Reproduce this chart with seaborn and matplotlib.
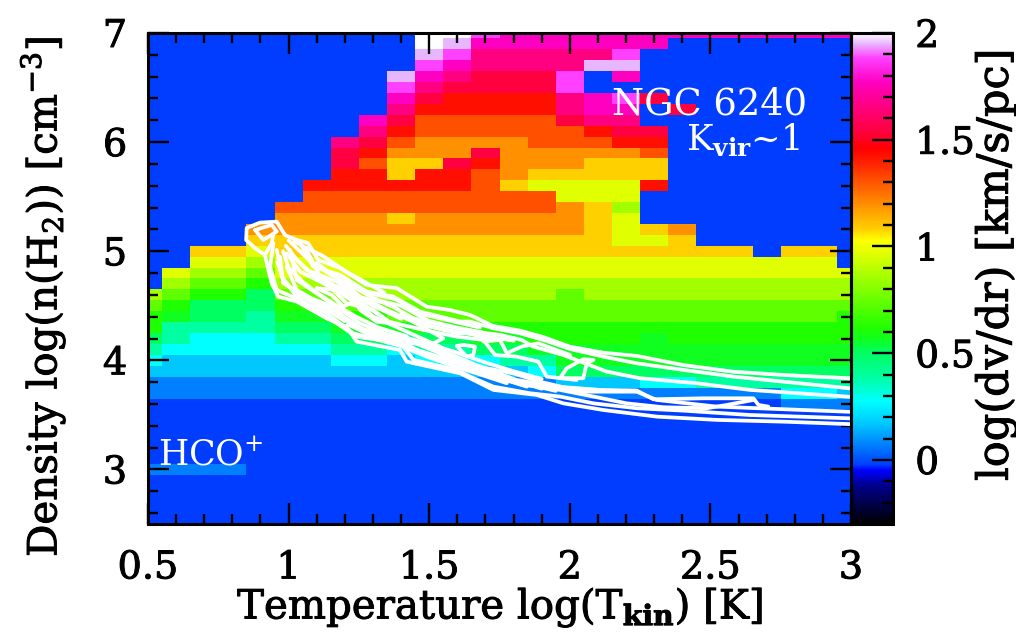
import numpy as np
import seaborn as sns
import matplotlib.pyplot as plt
import matplotlib.patheffects as pe
from matplotlib.colors import LinearSegmentedColormap
from matplotlib.ticker import MultipleLocator

plt.rcParams['font.family'] = ['DejaVu Serif']
plt.rcParams['mathtext.fontset'] = 'custom'
plt.rcParams['mathtext.rm'] = 'DejaVu Serif'
plt.rcParams['mathtext.bf'] = 'DejaVu Serif:bold'

# grid of the model: log T = 0.5..3.0, log n = 7.0..2.5 (top row first)
logT_start, logT_step = 0.5, 0.1
logn_start, logn_step = 2.5, 0.1

# one letter per colour level of log(dv/dr)
level_codes = list("abcdefGghijklmnopqrst")
level_values = [-0.02, 0.07, 0.17, 0.275, 0.39, 0.505, 0.565, 0.62, 0.735, 0.85, 0.965,
                1.08, 1.195, 1.31, 1.425, 1.54, 1.655, 1.77, 1.885, 1.95, 2.0]
level_colors = ["#0040ff", "#0080ff", "#00c8ff", "#00ffff", "#00ffa0", "#00ff60", "#10ff20",
                "#20ff00", "#60ff00", "#a0ff00", "#e0ff00", "#ffd000", "#ff9000", "#ff5000",
                "#ff1000", "#ff0040", "#ff0080", "#ff00c0", "#ff40ff", "#e8b4ff", "#ffffff"]

dvdr_rows = [
    "a"*10 + "tt" + "r" + "q"*13,                                   # 7.0
    "a"*10 + "ts" + "q"*7 + "a"*7,
    "a"*10 + "sr" + "p"*5 + "r" + "a"*8,
    "a"*10 + "rq" + "p"*4 + "ss" + "a"*8,
    "a"*9 + "sqp" + "ooo" + "r" + "a" + "q" + "a"*8,
    "a"*9 + "rp" + "oooo" + "r" + "a"*10,
    "a"*9 + "qo" + "nnnn" + "pqro" + "a"*7,
    "a"*9 + "p" + "n"*5 + "pqq" + "ao" + "a"*6,
    "a"*8 + "qo" + "m"*5 + "opp" + "a"*8,
    "a"*8 + "pn" + "m"*6 + "noo" + "a"*7,
    "a"*7 + "pom" + "llll" + "mmm" + "nn" + "a"*7,                  # 6.0
    "a"*7 + "on" + "lll" + "o" + "l"*5 + "m" + "a"*7,
    "a"*7 + "om" + "kk" + "on" + "lll" + "kkk" + "a"*7,
    "a"*7 + "nn" + "k" + "nn" + "ml" + "k"*5 + "a"*7,
    "a"*6 + "n"*6 + "mk" + "jjjj" + "n" + "a"*7,
    "a"*6 + "m"*9 + "jjj" + "a"*8,
    "a"*5 + "m"*10 + "lki" + "a"*8,
    "a"*5 + "llll" + "k" + "l"*6 + "kj" + "a"*8,
    "a"*4 + "l"*12 + "kjkl" + "a"*6,
    "a"*4 + "k"*13 + "jjk" + "a"*6,
    "aa" + "kk" + "j" + "k"*17 + "a" + "kk" + "a",                  # 5.0
    "aa" + "jj" + "i" + "j"*20 + "a",
    "ajiih" + "j"*21,
    "aihhg" + "i"*21,
    "ihggf" + "hh" + "i"*8 + "h" + "i"*10,
    "hgfff" + "gg" + "h"*19,
    "gGffe" + "GG" + "gg" + "h"*16 + "g",
    "geeee" + "ff" + "GG" + "G" + "g"*16,
    "feddd" + "ee" + "ff" + "e" + "ff" + "GG" + "gggg" + "G" + "g"*7,
    "edddd" + "dd" + "ee" + "d" + "ee" + "ff" + "G"*12,
    "dcccc" + "cc" + "dd" + "c" + "dd" + "d" + "ee" + "G"*11,       # 4.0
    "c"*14 + "d" + "f"*11,
    "b"*15 + "ccc" + "dd" + "e"*6,
    "b"*23 + "ddc",
    "a"*23 + "bbb",
    "a"*26,
    "a"*26,
    "a"*26,
    "a"*26,
    "a"*26,
    "bbbb" + "a"*22,                                                # 3.0
    "a"*26,
    "a"*26,
    "a"*26,
    "a"*26,
    "a"*26,
]

# hand read contours of the line emission: (log T, log n)
cont_top_T = [0.851, 0.898, 0.958, 0.987, 1.029, 1.069, 1.105, 1.183, 1.278, 1.384, 1.491, 1.574, 1.645, 1.727, 1.823, 1.905, 2.0, 2.118, 2.239, 2.403, 2.58, 2.758, 3.0]
cont_top_n = [5.213, 5.262, 5.271, 5.149, 5.103, 5.076, 4.92, 4.846, 4.69, 4.663, 4.492, 4.461, 4.416, 4.315, 4.272, 4.214, 4.125, 4.07, 4.04, 3.957, 3.896, 3.866, 3.835]
cont_low_T = [0.851, 0.849, 0.881, 0.916, 0.928, 0.94, 0.963, 1.029, 1.135, 1.206, 1.242, 1.396, 1.42, 1.61, 1.728, 1.882, 1.977, 2.119, 2.31, 2.523, 2.76, 3.0]
cont_low_n = [5.21, 5.103, 5.027, 4.966, 4.828, 4.706, 4.584, 4.538, 4.385, 4.309, 4.172, 4.095, 3.988, 3.881, 3.729, 3.683, 3.606, 3.545, 3.484, 3.454, 3.438, 3.415]
cont_u2_T = [1.041, 1.088, 1.183, 1.278, 1.372, 1.467, 1.61, 1.645, 1.728, 1.823, 1.906, 2.001, 2.119, 2.238, 2.404, 2.582, 2.759, 3.0]
cont_u2_n = [5.073, 4.859, 4.783, 4.63, 4.584, 4.447, 4.355, 4.355, 4.294, 4.248, 4.187, 4.104, 4.034, 3.973, 3.912, 3.851, 3.805, 3.742]
cont_u3_T = [1.017, 1.064, 1.171, 1.242, 1.349, 1.444, 1.598, 1.657, 1.752, 1.829, 1.87, 1.977, 2.131, 2.25, 2.451, 2.641, 3.0]
cont_u3_n = [4.951, 4.828, 4.722, 4.584, 4.523, 4.385, 4.294, 4.263, 4.233, 4.187, 4.126, 4.049, 3.897, 3.836, 3.79, 3.729, 3.665]
cont_u4_T = [0.993, 1.041, 1.147, 1.206, 1.301, 1.355, 1.479, 1.598, 1.693, 1.734, 1.811, 1.888, 1.918, 2.024]
cont_u4_n = [4.981, 4.813, 4.676, 4.523, 4.462, 4.355, 4.279, 4.217, 4.187, 4.049, 4.034, 3.988, 3.851, 3.82]
cont_m1_T = [0.946, 0.934, 0.958, 1.041, 1.135, 1.23, 1.408, 1.444, 1.598, 1.645, 1.728, 1.859, 1.965, 2.084, 2.238, 2.404, 2.641, 3.0]
cont_m1_n = [5.073, 4.859, 4.645, 4.553, 4.431, 4.248, 4.126, 4.004, 3.912, 3.851, 3.759, 3.698, 3.668, 3.606, 3.561, 3.539, 3.499, 3.468]
cont_m2_T = [0.969, 0.981, 1.064, 1.159, 1.23, 1.372, 1.455, 1.598, 1.693, 1.835, 2.048, 2.238, 2.309, 2.522, 2.759, 3.0]
cont_m2_n = [4.951, 4.706, 4.584, 4.492, 4.309, 4.217, 4.095, 3.973, 3.881, 3.774, 3.713, 3.713, 3.637, 3.576, 3.552, 3.528]
cont_m3_T = [1.005, 1.029, 1.135, 1.254, 1.396, 1.503, 1.598, 1.693, 1.811, 1.953, 2.108, 2.238, 2.297, 2.475, 2.653, 2.671, 2.706]
cont_m3_n = [5.012, 4.737, 4.553, 4.34, 4.187, 4.126, 4.034, 3.927, 3.82, 3.759, 3.729, 3.723, 3.643, 3.652, 3.652, 3.591, 3.576]
cont_m4_T = [1.064, 1.112, 1.206, 1.301, 1.42, 1.538, 1.574, 1.681, 1.835, 1.965, 2.084, 2.202, 2.333, 2.487, 2.558, 2.653]
cont_m4_n = [5.012, 4.767, 4.615, 4.401, 4.263, 4.126, 4.019, 3.942, 3.79, 3.729, 3.668, 3.606, 3.57, 3.561, 3.591, 3.637]
cont_b1_T = [1.1, 1.183, 1.254, 1.349, 1.455, 1.598, 1.645, 1.716]
cont_b1_n = [4.89, 4.737, 4.584, 4.462, 4.34, 4.248, 4.248, 4.187]
cont_b2_T = [0.993, 1.029, 1.112, 1.195, 1.278, 1.396, 1.538, 1.61, 1.645, 1.752, 1.847]
cont_b2_n = [4.859, 4.645, 4.523, 4.401, 4.263, 4.217, 4.065, 3.973, 3.927, 3.836, 3.759]
cont_b3_T = [0.958, 0.976, 1.029, 1.088, 1.171, 1.242, 1.361, 1.491, 1.61, 1.669, 1.776]
cont_b3_n = [5.012, 4.767, 4.584, 4.462, 4.34, 4.217, 4.172, 4.034, 3.927, 3.881, 3.79]
cont_ring_T = [0.881, 0.91, 0.958, 0.94, 0.881]
cont_ring_n = [5.195, 5.103, 5.18, 5.241, 5.195]
cont_stem_T = [0.946, 0.94, 0.916]
cont_stem_n = [5.164, 5.073, 4.966]
cont_loop1_T = [1.1, 1.153, 1.195, 1.23, 1.171, 1.1]
cont_loop1_n = [4.66, 4.599, 4.492, 4.538, 4.645, 4.66]
cont_loop2_T = [1.23, 1.278, 1.349, 1.361, 1.313, 1.254, 1.23]
cont_loop2_n = [4.584, 4.492, 4.37, 4.34, 4.355, 4.462, 4.584]
cont_loop3_T = [1.42, 1.55, 1.515, 1.42]
cont_loop3_n = [4.385, 4.202, 4.156, 4.156]
cont_loop4_T = [1.621, 1.598, 1.633, 1.657, 1.663, 1.621]
cont_loop4_n = [4.141, 4.132, 4.034, 4.049, 4.126, 4.141]
cont_w1_T = [1.693, 1.752, 1.776, 1.829, 1.888, 2.001]
cont_w1_n = [4.172, 4.187, 4.065, 4.126, 4.156, 4.049]
cont_w2_T = [1.965, 1.989, 2.048, 2.084, 2.06, 2.048, 1.965]
cont_w2_n = [3.836, 3.927, 4.01, 4.004, 3.973, 3.836, 3.836]
# the dense part of the bundle
cont_e1_T = [1.0, 1.04, 1.08, 1.14, 1.2, 1.28, 1.36]
cont_e1_n = [5.1, 5.0, 4.9, 4.8, 4.72, 4.6, 4.5]
cont_e2_T = [0.99, 1.03, 1.08, 1.15, 1.22, 1.3, 1.4]
cont_e2_n = [5.05, 4.92, 4.8, 4.7, 4.62, 4.5, 4.38]
cont_e3_T = [0.98, 1.0, 1.05, 1.1, 1.16, 1.24, 1.32, 1.42]
cont_e3_n = [5.0, 4.85, 4.72, 4.62, 4.52, 4.4, 4.3, 4.22]
cont_e4_T = [0.96, 0.98, 1.02, 1.08, 1.15, 1.2]
cont_e4_n = [4.9, 4.75, 4.62, 4.54, 4.44, 4.36]
cont_e5_T = [1.02, 1.07, 1.12, 1.2, 1.27, 1.34]
cont_e5_n = [5.09, 5.02, 4.96, 4.82, 4.72, 4.62]
cont_f1_T = [1.21, 1.3, 1.4, 1.5, 1.6, 1.7, 1.8, 1.9]
cont_f1_n = [4.33, 4.22, 4.15, 4.05, 3.97, 3.9, 3.82, 3.74]
cont_f2_T = [1.25, 1.35, 1.45, 1.55, 1.65, 1.75, 1.85, 1.95]
cont_f2_n = [4.3, 4.2, 4.1, 4.02, 3.95, 3.85, 3.78, 3.72]
cont_f3_T = [1.3, 1.4, 1.5, 1.6, 1.7, 1.8, 1.9, 2.0]
cont_f3_n = [4.28, 4.2, 4.12, 4.0, 3.93, 3.88, 3.8, 3.74]
cont_f4_T = [1.4, 1.5, 1.6, 1.7, 1.8, 1.9]
cont_f4_n = [4.22, 4.15, 4.07, 3.98, 3.9, 3.83]
cont_g1_T = [1.28, 1.38, 1.48, 1.58, 1.68]
cont_g1_n = [4.62, 4.56, 4.42, 4.36, 4.3]
cont_g2_T = [1.3, 1.4, 1.5, 1.6, 1.7]
cont_g2_n = [4.56, 4.5, 4.36, 4.3, 4.25]
cont_g3_T = [1.4, 1.5, 1.6, 1.7, 1.8]
cont_g3_n = [4.42, 4.32, 4.26, 4.22, 4.18]

contours = [
    (cont_top_T, cont_top_n), (cont_low_T, cont_low_n), (cont_u2_T, cont_u2_n), (cont_u3_T, cont_u3_n),
    (cont_u4_T, cont_u4_n), (cont_m1_T, cont_m1_n), (cont_m2_T, cont_m2_n), (cont_m3_T, cont_m3_n),
    (cont_m4_T, cont_m4_n), (cont_b1_T, cont_b1_n), (cont_b2_T, cont_b2_n), (cont_b3_T, cont_b3_n),
    (cont_ring_T, cont_ring_n), (cont_stem_T, cont_stem_n), (cont_loop1_T, cont_loop1_n),
    (cont_loop2_T, cont_loop2_n), (cont_loop3_T, cont_loop3_n), (cont_loop4_T, cont_loop4_n),
    (cont_w1_T, cont_w1_n), (cont_w2_T, cont_w2_n),
    (cont_e1_T, cont_e1_n), (cont_e2_T, cont_e2_n), (cont_e3_T, cont_e3_n), (cont_e4_T, cont_e4_n),
    (cont_e5_T, cont_e5_n), (cont_f1_T, cont_f1_n), (cont_f2_T, cont_f2_n), (cont_f3_T, cont_f3_n),
    (cont_f4_T, cont_f4_n), (cont_g1_T, cont_g1_n), (cont_g2_T, cont_g2_n), (cont_g3_T, cont_g3_n),
]

# colour table: black at the bottom, then the level colours
vmin, vmax = -0.3, 2.0
stops = [(-0.3, "#000000"), (-0.12, "#00008c"), (-0.05, "#0000ff")] + list(zip(level_values, level_colors))
stops += [(1.03, "#ffff00"), (1.46, "#ff0000")]
stops = sorted(stops)
cmap = LinearSegmentedColormap.from_list("dvdr", [((v - vmin) / (vmax - vmin), c) for v, c in stops], N=1024)

lookup = dict(zip(level_codes, level_values))
dvdr = np.array([[lookup[c] for c in row] for row in dvdr_rows[::-1]])

W, H = 1016, 633
rect = [148 / W, 1 - 524 / H, 703 / W, 491 / H]
fig = plt.figure(figsize=(W / 100, H / 100), dpi=100)
ax_map = fig.add_axes(rect)
cax = fig.add_axes([851 / W, 1 - 524 / H, 42 / W, 491 / H])

sns.heatmap(dvdr, ax=ax_map, cbar_ax=cax, cmap=cmap, vmin=vmin, vmax=vmax,
            xticklabels=False, yticklabels=False, linewidths=0)
# cell k sits at k+0.5 in heatmap units, so half of the edge cells is cut off
ax_map.set_xlim(0.5, dvdr.shape[1] - 0.5)
ax_map.set_ylim(0.5, dvdr.shape[0] - 0.5)
ax_map.set_axis_off()

ax = fig.add_axes(rect, facecolor='none')
for T, n in contours:
    sns.lineplot(x=T, y=n, ax=ax, sort=False, estimator=None, color='white', linewidth=2.7,
                 solid_joinstyle='round', solid_capstyle='round')
ax.set_xlim(logT_start, 3)
ax.set_ylim(logn_start, 7)
ax.xaxis.set_minor_locator(MultipleLocator(logT_step))
ax.yaxis.set_minor_locator(MultipleLocator(0.2))
ax.set_xticks([0.5, 1, 1.5, 2, 2.5, 3])
ax.set_xticklabels(['0.5', '1', '1.5', '2', '2.5', '3'])
ax.set_yticks([3, 4, 5, 6, 7])
ax.set_yticklabels(['3', '4', '5', '6', '7'])
ax.tick_params(which='major', direction='in', top=True, right=True, length=15, width=1.7, labelsize=27.5, pad=15)
ax.tick_params(axis='x', which='major', pad=19)
ax.tick_params(which='minor', direction='in', top=True, right=True, length=7.5, width=1.7)
for s in ax.spines.values():
    s.set_linewidth(2.2)

cbar = ax_map.collections[0].colorbar
cbar.set_ticks([0, 0.5, 1, 1.5, 2], labels=['0', '0.5', '1', '1.5', '2'])
cax.yaxis.set_minor_locator(MultipleLocator(0.1))
cax.tick_params(which='major', direction='in', right=True, length=15, width=1.7, labelsize=27, pad=16)
cax.tick_params(which='minor', direction='in', right=True, length=7.5, width=1.7)
cbar.outline.set_linewidth(2.2)
cbar.outline.set_edgecolor('black')

ax.text(2.15, 6.25, "NGC 6240", color='white', fontsize=26.5)
ax.text(2.413, 5.93, r"K$_{\mathbf{vir}}$~1", color='white', fontsize=25.5)
ax.text(0.536, 3.04, r"HCO$^{+}$", color='white', fontsize=25)

labels = [
    fig.text(500 / W, 1 - 608 / H, r"Temperature log(T$_{\mathbf{kin}}$) [K]", ha='center', va='center', fontsize=29),
    fig.text(43 / W, 1 - 297 / H, r"Density log(n(H$_{2}$)) [cm$^{-3}$]", ha='center', va='center', rotation=90, fontsize=29),
    fig.text(996 / W, 1 - 265 / H, "log(dv/dr) [km/s/pc]", ha='center', va='center', rotation=90, fontsize=31),
]
# the original lettering is a little heavier than the regular weight
heavier = [pe.withStroke(linewidth=0.7, foreground='black')]
for t in labels + ax.get_xticklabels() + ax.get_yticklabels() + cax.get_yticklabels():
    t.set_path_effects(heavier)

fig.savefig("out.png", dpi=100)
